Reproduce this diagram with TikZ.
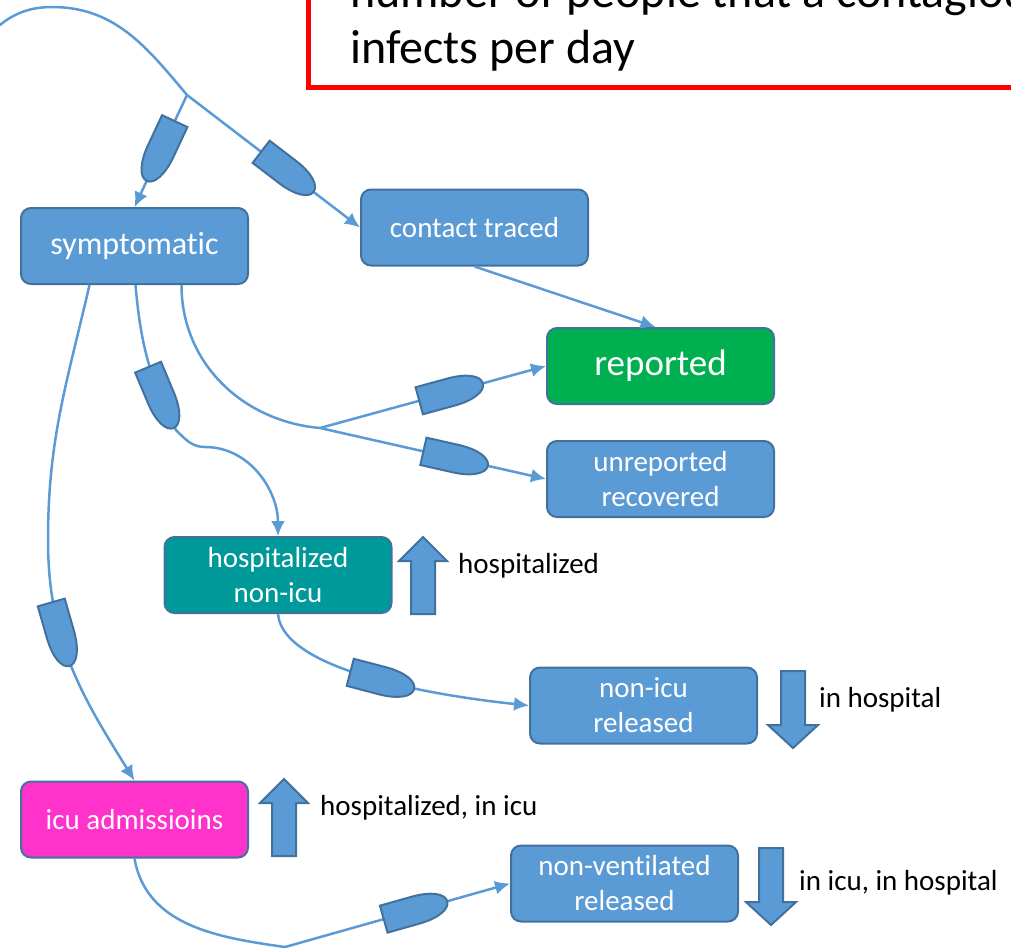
\documentclass[tikz,border=0pt]{standalone}
\usepackage{fontspec}
\setmainfont{Carlito}[Ligatures=NoCommon]
\usetikzlibrary{arrows.meta}
\definecolor{flowblue}{HTML}{5B9BD5}
\definecolor{flowedge}{HTML}{41719C}
\definecolor{repgreen}{HTML}{00B050}
\definecolor{hospteal}{HTML}{009999}
\definecolor{icupink}{HTML}{FF33CC}

\begin{document}
\begin{tikzpicture}[x=1pt,y=-1pt,
  stock/.style={draw=flowedge,line width=2pt,fill=flowblue,text=white,rounded corners=10pt,
    minimum width=227pt,minimum height=76pt,align=center,inner sep=2pt,font=\fontsize{29}{35}\selectfont},
  flow/.style={draw=flowblue,line width=2.5pt,-{Latex[length=15pt,width=14pt]}},
  pipe/.style={draw=flowblue,line width=2.5pt},
  tag/.style={anchor=west,inner sep=0pt,font=\fontsize{29}{35}\selectfont},
  valve/.pic={\path[draw=flowedge,fill=flowblue,line width=2pt] (-33,-14) -- (-33,14) -- (0,14)
    .. controls (20,14) and (33,8) .. (33,0) .. controls (33,-8) and (20,-14) .. (0,-14) -- cycle;},
  upbar/.pic={\path[draw=flowedge,fill=flowblue,line width=2pt] (0,0) -- (24,24) -- (12,24) -- (12,77)
    -- (-12,77) -- (-12,24) -- (-24,24) -- cycle;},
  downbar/.pic={\path[draw=flowedge,fill=flowblue,line width=2pt] (0,0) -- (25,-23) -- (12,-23) -- (12,-77)
    -- (-12,-77) -- (-12,-23) -- (-25,-23) -- cycle;}]
  \useasboundingbox (0,0) rectangle (1011,951);
  \clip (0,0) rectangle (1011,951);

  %note at the top
  \draw[red,line width=5pt] (308,-40) rectangle (1040,87.5);
  \node[anchor=base west,align=left,inner sep=0pt,font=\fontsize{48}{56}\selectfont] (note) at (350,63)
    {number of people that a contagious\\infects per day};

  %stocks
  \node[stock,font=\fontsize{32}{38}\selectfont] (sym) at (134.5,246) {symptomatic};
  \node[stock] (traced) at (474.5,227.5) {contact traced};
  \node[stock,fill=repgreen,font=\fontsize{37}{44}\selectfont] (rep) at (660.5,366) {reported};
  \node[stock] (unrep) at (660.5,479) {unreported\\recovered};
  \node[stock,fill=hospteal] (hosp) at (278,575) {hospitalized\\non-icu};
  \node[stock] (nonicu) at (643.5,705.5) {non-icu\\released};
  \node[stock,fill=icupink] (icu) at (134.5,819.5) {icu admissioins};
  \node[stock] (nonvent) at (624.5,883.5) {non-ventilated\\released};

  %up and down markers
  \pic at (423,537) {upbar};
  \node[tag] (l1) at (458,566) {hospitalized};
  \pic at (793,748) {downbar};
  \node[tag] (l2) at (819,700) {in hospital};
  \pic at (284,779) {upbar};
  \node[tag] (l3) at (320,808) {hospitalized, in icu};
  \pic at (771,925) {downbar};
  \node[tag] (l4) at (799,883) {in icu, in hospital};

  %splits
  \coordinate (j1) at (187,95);
  \coordinate (j2) at (320,428);
  \coordinate (j3) at (285,947);

  %flows
  \draw[pipe] (-20,45) to[out=50,in=180] (52,7) to[out=0,in=130] (j1);
  \draw[flow] (j1) -- pic[pos=.5,sloped,allow upside down]{valve} (sym.north);
  \draw[flow] (j1) -- pic[pos=.58,sloped,allow upside down]{valve} (traced.west);
  \draw[flow] (traced.south) -- ([xshift=-5]rep.north);
  \draw[pipe] ([xshift=47]sym.south) to[out=-90,in=175] (j2);
  \draw[flow] (j2) -- pic[pos=.58,sloped,allow upside down]{valve} (rep.west);
  \draw[flow] (j2) -- pic[pos=.6,sloped,allow upside down]{valve} (unrep.west);
  \draw[flow] ([xshift=1]sym.south) to[out=-85,in=117] pic[pos=.78,sloped,allow upside down]{valve} (176,430)
    to[out=-45,in=180] (205,447) to[out=0,in=90] (hosp.north);
  \draw[flow] ([xshift=-45]sym.south) to[out=-103,in=90] (48,540)
    to[out=-90,in=122] pic[pos=.36,sloped,allow upside down]{valve} (icu.north);
  \draw[flow] (hosp.south) to[out=-85,in=174,looseness=.6] pic[pos=.5,sloped,allow upside down]{valve} (nonicu.west);
  \draw[pipe] (icu.south) to[out=-80,in=172] (j3);
  \draw[flow] (j3) -- pic[pos=.58,sloped,allow upside down]{valve} (nonvent.west);
\end{tikzpicture}
\end{document}
